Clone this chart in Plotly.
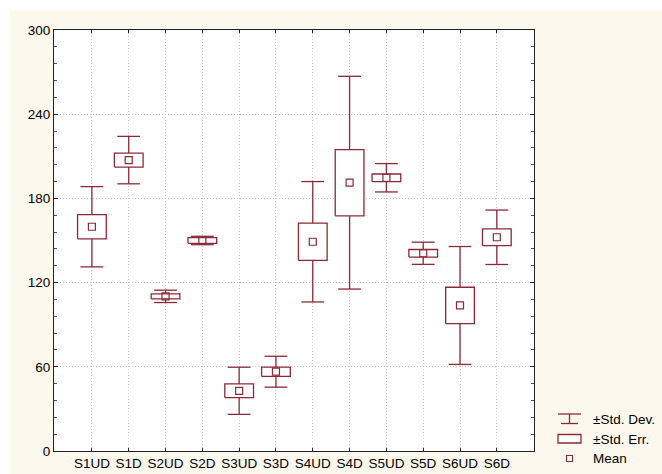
import plotly.graph_objects as go

# Group labels and summary statistics
categories = ["S1UD", "S1D", "S2UD", "S2D", "S3UD", "S3D",
              "S4UD", "S4D", "S5UD", "S5D", "S6UD", "S6D"]
means = [159.8, 207.3, 110.2, 150.0, 42.9, 56.5,
         149.1, 191.2, 194.7, 140.9, 103.7, 152.3]
std_err = [8.6, 5.0, 1.8, 2.0, 4.9, 3.3,
           13.3, 23.6, 2.7, 2.7, 13.0, 6.0]
std_dev = [28.6, 16.9, 4.4, 3.0, 16.8, 11.0,
           42.9, 75.8, 10.1, 7.9, 42.0, 19.4]

y_ticks = [0, 60, 120, 180, 240, 300]

COLOR = "#8a2a36"
CREAM = "#fcf8ee"
FONT = "Liberation Sans, Arial, sans-serif"
GRID = "#c4c4c4"

BOX_HALF = 0.39
CAP_HALF = 0.31

xs = list(range(len(categories)))

# SE boxes (white-filled rectangles, one polygon per group)
box_x, box_y = [], []
for i, m, se in zip(xs, means, std_err):
    box_x += [i - BOX_HALF, i + BOX_HALF, i + BOX_HALF, i - BOX_HALF, i - BOX_HALF, None]
    box_y += [m - se, m - se, m + se, m + se, m - se, None]

# SD whiskers with caps
wh_x, wh_y = [], []
for i, m, se, sd in zip(xs, means, std_err, std_dev):
    hi, lo = m + sd, m - sd
    wh_x += [i - CAP_HALF, i + CAP_HALF, None, i, i, None,
             i - CAP_HALF, i + CAP_HALF, None, i, i, None]
    wh_y += [hi, hi, None, hi, m + se, None,
             lo, lo, None, lo, m - se, None]

fig = go.Figure()
fig.add_trace(go.Scatter(
    x=box_x, y=box_y, mode="lines", fill="toself", fillcolor="white",
    line=dict(color=COLOR, width=1.3), name="±Std. Err.", hoverinfo="skip"))
fig.add_trace(go.Scatter(
    x=wh_x, y=wh_y, mode="lines",
    line=dict(color=COLOR, width=1.3), name="±Std. Dev.", hoverinfo="skip"))
fig.add_trace(go.Scatter(
    x=xs, y=means, mode="markers", name="Mean",
    marker=dict(symbol="square-open", size=7, color=COLOR,
                line=dict(width=1.2, color=COLOR))))

# Plot-area geometry in pixels, used to place the hand-drawn legend
L, R, T, B = 54, 534, 30, 451
W, H = R - L, B - T


def px(x):
    return (x - L) / W


def py(y):
    return (B - y) / H


shapes = [
    # white margin strips on top and left of the cream page
    dict(type="rect", xref="paper", yref="paper", x0=px(0), x1=px(662),
         y0=py(10), y1=py(0), fillcolor="white", line=dict(width=0), layer="below"),
    dict(type="rect", xref="paper", yref="paper", x0=px(0), x1=px(10),
         y0=py(474), y1=py(0), fillcolor="white", line=dict(width=0), layer="below"),
]

# Legend: whisker glyph, box glyph, mean glyph
lx0, lx1, lxc = 558, 581, 569.5
leg_line = dict(color=COLOR, width=1.3)
shapes += [
    dict(type="line", xref="paper", yref="paper", x0=px(lx0), x1=px(lx1),
         y0=py(414), y1=py(414), line=leg_line),
    dict(type="line", xref="paper", yref="paper", x0=px(lx0 + 3), x1=px(lx1 - 3),
         y0=py(423.5), y1=py(423.5), line=leg_line),
    dict(type="line", xref="paper", yref="paper", x0=px(lxc), x1=px(lxc),
         y0=py(414), y1=py(423.5), line=leg_line),
    dict(type="rect", xref="paper", yref="paper", x0=px(lx0), x1=px(lx1),
         y0=py(443), y1=py(434.5), line=leg_line, fillcolor="white"),
    dict(type="rect", xref="paper", yref="paper", x0=px(lxc - 3), x1=px(lxc + 3),
         y0=py(461.5), y1=py(455.5), line=dict(color=COLOR, width=1.1),
         fillcolor="rgba(0,0,0,0)"),
]

annotations = []
for text, yy in [("±Std. Dev.", 419), ("±Std. Err.", 439), ("Mean", 458.5)]:
    annotations.append(dict(
        text=text, xref="paper", yref="paper", x=px(591), y=py(yy),
        xanchor="left", yanchor="middle", showarrow=False,
        font=dict(family=FONT, size=13.5, color="#000")))

fig.update_layout(
    width=662, height=474,
    margin=dict(l=L, r=662 - R, t=T, b=474 - B, autoexpand=False),
    paper_bgcolor=CREAM, plot_bgcolor="white",
    showlegend=False,
    shapes=shapes, annotations=annotations,
    font=dict(family=FONT, size=13.5, color="#000"),
)

fig.update_xaxes(
    range=[-1.03, 12.01], tickmode="array", tickvals=xs, ticktext=categories,
    showline=True, linecolor="#222", linewidth=1, mirror="ticks",
    ticks="inside", ticklen=3, tickcolor="#222",
    showgrid=True, gridcolor=GRID, griddash="1px,2px", gridwidth=1,
    zeroline=False, tickfont=dict(family=FONT, size=13.5, color="#000"),
)
fig.update_yaxes(
    range=[0, 300], tickmode="array", tickvals=y_ticks,
    showline=True, linecolor="#222", linewidth=1, mirror="ticks",
    ticks="inside", ticklen=4, tickcolor="#222",
    minor=dict(dtick=12, ticks="inside", ticklen=3, tickcolor="#555", showgrid=False),
    showgrid=True, gridcolor=GRID, griddash="1px,2px", gridwidth=1,
    zeroline=False, tickfont=dict(family=FONT, size=13.5, color="#000"),
)

fig.write_html("out.html")
